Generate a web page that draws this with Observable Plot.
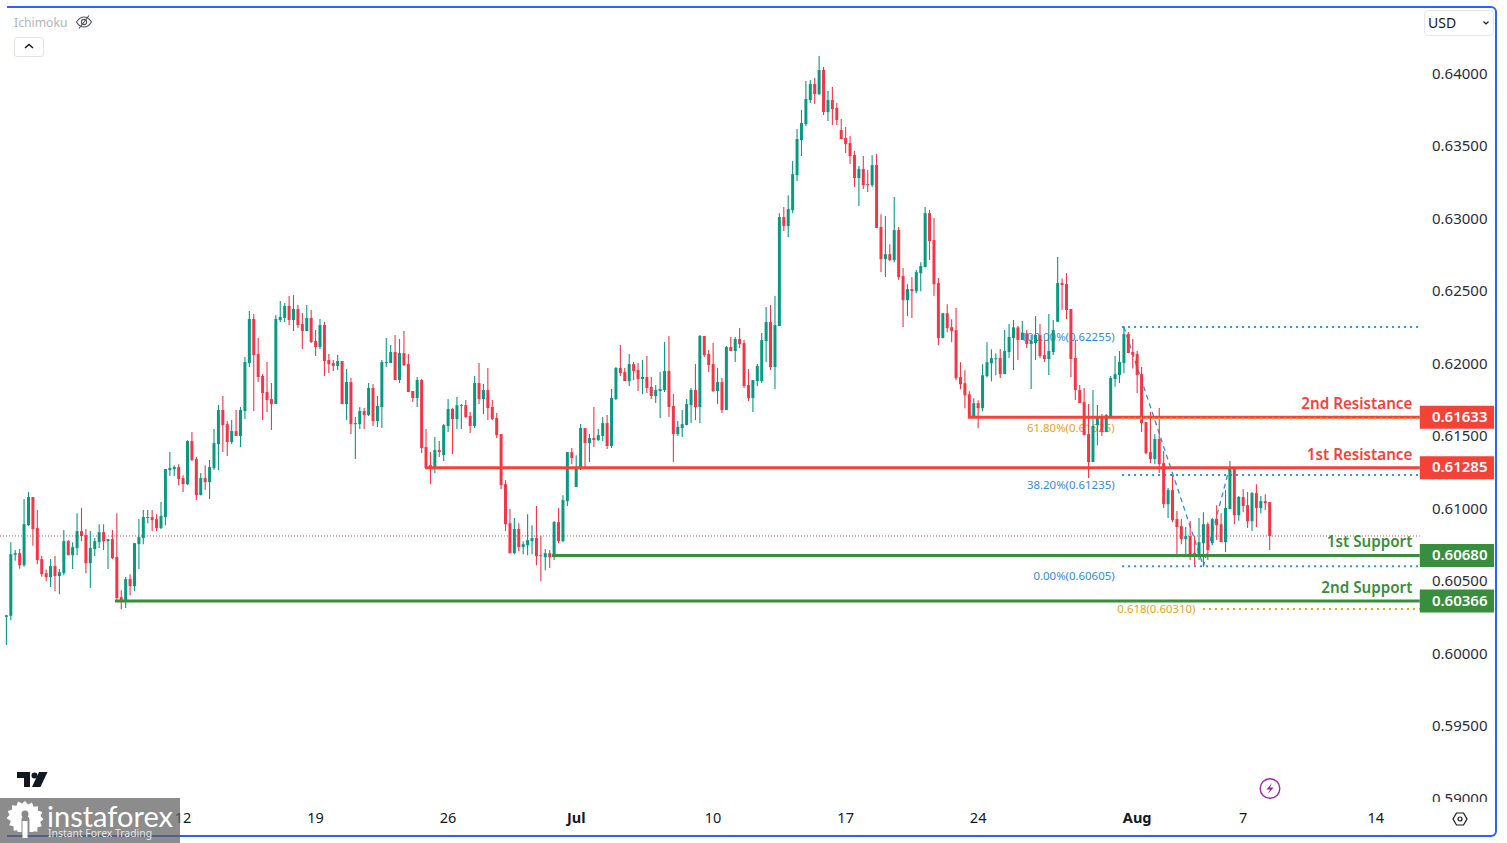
<!DOCTYPE html>
<html>
<head>
<meta charset="utf-8">
<script src="https://cdn.jsdelivr.net/npm/d3@7"></script>
<script src="https://cdn.jsdelivr.net/npm/@observablehq/plot@0.6"></script>
<style>
html,body{margin:0;padding:0;background:#fff;overflow:hidden}
#stage{position:relative;width:1507px;height:843px;overflow:hidden;font-family:"Noto Sans",sans-serif}
#stage svg{display:block}
.ov{position:absolute}
</style>
</head>
<body>
<div id="stage"></div>
<script>
// Prices in points (1 point = 0.00001)
const opens = [
60253,60260,60681,60692,60609,60885,61079,60865,60651,60554,
60527,60603,60534,60554,60775,60678,60727,60844,60816,60623,
60720,60768,60837,60775,60789,60665,60389,60361,60513,60465,
60754,60796,60934,60941,60927,60865,60941,61265,61272,61286,
61210,61168,61465,61341,61092,61210,61182,61279,61444,61679,
61582,61458,61534,61500,61672,62003,62307,62065,61914,61803,
61755,61720,62300,62314,62397,62300,62376,62272,62224,62314,
62155,62114,62265,62024,62003,61983,62017,61720,61872,61582,
61582,61672,61644,61831,61603,61700,62003,62003,62079,61886,
62072,61996,61810,61762,61886,61424,61299,61279,61403,61368,
61569,61686,61617,61707,61713,61638,61569,61865,61755,61817,
61700,61624,61513,61168,60899,60692,60858,60734,60747,60775,
60796,60678,60665,60692,60678,60906,60775,61051,61389,61148,
61272,61555,61451,61486,61472,61500,61589,61431,61755,61969,
61941,61879,61996,61955,61893,61907,61838,61776,61810,61817,
61948,61707,61513,61555,61575,61713,61817,61700,62190,62065,
61996,61810,61872,61679,62114,62086,62169,62141,61851,61762,
61879,61879,62155,62286,61976,62258,63010,62948,63058,63299,
63541,63651,63817,63927,63858,64024,63734,63817,63762,63610,
63555,63520,63437,63279,63341,63237,63230,63368,62941,62720,
62754,62713,62920,62603,62437,62513,62499,62623,62665,63037,
62851,62554,62175,62347,62251,62230,61906,61864,61788,61637,
61726,61692,61913,62002,62030,62038,61927,62079,62176,62249,
62162,62208,62134,62141,62196,62058,62031,62079,62288,62555,
62548,62376,62038,61817,61734,61513,61320,61575,61633,61527,
61633,61893,61920,62003,62203,62079,62065,61927,61596,61389,
61341,61479,61313,61030,61127,60927,60879,60789,60810,60692,
60678,60761,60892,60761,60927,60892,60768,60996,61279,60954,
61079,61023,60913,61106,61003,61051,61044];
const closes = [
60264,60685,60692,60609,60892,61079,60858,60644,60547,60527,
60603,60534,60561,60775,60678,60734,60844,60810,60623,60727,
60775,60837,60775,60789,60658,60382,60361,60513,60465,60761,
60803,60941,60941,60920,60865,60948,61272,61279,61286,61203,
61168,61465,61334,61092,61210,61182,61286,61451,61679,61575,
61458,61534,61500,61679,62010,62307,62058,61907,61796,61748,
61720,62307,62321,62397,62300,62376,62265,62224,62314,62148,
62114,62265,62017,61996,61983,62017,61720,61872,61582,61589,
61672,61644,61831,61603,61707,62010,62010,62079,61886,62072,
61989,61803,61762,61886,61417,61279,61279,61403,61389,61575,
61686,61617,61713,61713,61631,61569,61865,61755,61817,61693,
61617,61506,61161,60892,60692,60858,60734,60754,60782,60796,
60672,60672,60692,60665,60906,60775,61058,61389,61348,61286,
61555,61451,61486,61472,61506,61589,61431,61762,61969,61934,
61879,61996,61948,61893,61907,61831,61776,61817,61824,61948,
61700,61513,61562,61582,61720,61817,61700,62190,62058,61989,
61810,61872,61679,62114,62086,62169,62134,61845,61762,61886,
61983,62162,62286,61976,62265,63010,62948,63065,63306,63548,
63658,63824,63927,63858,64024,63734,63817,63755,63679,63548,
63513,63431,63279,63341,63230,63230,63368,62934,62720,62754,
62713,62920,62596,62437,62513,62499,62630,62672,63037,62844,
62547,62175,62347,62244,62223,61899,61857,61781,61632,61726,
61692,61919,62009,62037,62037,61927,62086,62183,62249,62162,
62213,62134,62157,62196,62052,62031,62086,62231,62555,62541,
62369,62031,61817,61727,61506,61320,61569,61638,61527,61644,
61900,61927,62010,62203,62072,62058,61920,61589,61382,61341,
61479,61306,61030,61127,60920,60872,60789,60810,60678,60672,
60768,60892,60713,60927,60885,60768,61003,61286,60954,61079,
61017,60913,61106,61003,61051,61037,60810];
const highs = [
60264,60768,60713,60720,61065,61113,61079,60989,60672,60580,
60651,60672,60582,60851,60782,60768,60968,61003,60858,60844,
60796,60892,60892,60789,60851,60968,60437,60527,60547,60761,
60927,60989,60989,60989,60961,61044,61272,61389,61299,61306,
61230,61472,61527,61355,61244,61299,61334,61548,61713,61776,
61603,61610,61679,61700,62045,62362,62341,62176,61927,62010,
61865,62334,62431,62417,62466,62472,62403,62348,62403,62369,
62231,62307,62286,62065,62024,62058,62017,61962,61900,61631,
61700,61693,61865,61858,61776,62024,62176,62127,62196,62169,
62224,62065,61810,61907,61893,61548,61389,61493,61465,61582,
61755,61693,61769,61720,61748,61665,61914,62003,61858,61969,
61748,61658,61513,61196,60996,60934,60899,60775,60961,60885,
61017,60810,60720,60713,60913,61003,61092,61389,61417,61368,
61582,61555,61513,61700,61548,61631,61644,61824,61976,62127,
61969,62065,62010,62003,62024,62052,61907,61851,61941,62148,
62190,61789,61603,61679,61755,61831,61996,62196,62190,62093,
62141,61969,61900,62121,62183,62183,62245,62162,61962,61886,
61996,62210,62390,62403,62466,63037,63079,63161,63396,63617,
63748,63948,63955,63969,64121,64045,63879,63907,63796,63686,
63631,63569,63465,63362,63431,63334,63437,63444,63030,63017,
62823,63148,62941,62658,62547,62596,62644,62699,63079,63058,
63003,62589,62347,62409,62306,62382,62009,61954,61809,61761,
61747,61995,62147,62099,62071,62100,62231,62272,62300,62259,
62293,62231,62196,62328,62272,62162,62341,62300,62735,62587,
62624,62376,62162,61851,61831,61720,61817,61713,61651,61651,
61914,62052,62086,62254,62217,62169,62086,61976,61596,61665,
61513,61693,61396,61141,61230,60982,60927,60872,60913,60810,
60934,60975,60906,60934,61023,60968,61127,61327,61286,61086,
61134,61113,61113,61168,61086,61099,61044];
const lows = [
60058,60230,60639,60584,60598,60879,60743,60616,60529,60499,
60458,60430,60409,60540,60678,60582,60678,60775,60554,60451,
60672,60727,60713,60582,60651,60368,60306,60313,60402,60430,
60582,60754,60899,60844,60844,60858,60885,61224,61224,61161,
61113,61161,61327,61058,61092,61127,61065,61265,61265,61389,
61362,61444,61500,61424,61617,61976,61672,61872,61610,61665,
61541,61720,62286,62286,62265,62224,62245,62100,62224,62141,
62052,62100,61914,61934,61948,61955,61720,61610,61513,61341,
61548,61548,61638,61569,61562,61555,61976,62003,61886,61865,
61983,61803,61734,61700,61382,61272,61168,61244,61355,61327,
61527,61375,61548,61548,61624,61520,61555,61720,61651,61610,
61610,61486,61134,60844,60692,60685,60706,60685,60678,60685,
60609,60499,60575,60589,60644,60761,60768,61017,61306,61148,
61265,61272,61320,61424,61465,61465,61410,61417,61748,61914,
61879,61845,61886,61810,61789,61796,61755,61727,61624,61803,
61631,61320,61500,61493,61575,61589,61610,61589,62045,61941,
61803,61720,61658,61679,62086,62010,62107,61831,61741,61665,
61845,61865,62010,61955,61824,62258,62913,62872,63037,63258,
63431,63638,63796,63789,63851,63713,63672,63644,63644,63548,
63451,63375,63217,63086,63203,63182,63217,62934,62630,62596,
62706,62699,62575,62251,62327,62313,62485,62499,62665,62713,
62465,62126,62175,62216,62147,61885,61823,61692,61623,61623,
61554,61671,61906,61878,61919,61900,61927,62038,61955,62024,
62162,62107,61824,62024,62038,62010,61920,62058,62288,62369,
62307,61907,61748,61727,61506,61210,61320,61437,61500,61527,
61633,61840,61865,61932,62072,61966,61796,61527,61375,61313,
61306,61244,61003,60934,60906,60678,60754,60678,60644,60609,
60644,60609,60644,60747,60782,60768,60699,60996,60892,60915,
60975,60865,60844,60872,60968,60989,60713];

const POINT = 1e-5;
const price = p => p * POINT;

// Axes
const priceTicks = [0.59,0.595,0.60,0.605,0.61,0.615,0.62,0.625,0.63,0.635,0.64];
const dayTicks = [40,70,100,160,190,220,280,310];
const dayLabels = ["12","19","26","10","17","24","7","14"];
const monthTicks = [129,256];
const monthLabels = ["Jul","Aug"];

// Support / resistance levels
const levelNames  = ["2nd Resistance","1st Resistance","1st Support","2nd Support"];
const levelPrices = [0.61633,0.61285,0.60680,0.60366];
const levelStarts = [217.8,94.9,123.6,24.7];
const levelColors = ["#f44336","#f44336","#388e3c","#388e3c"];
const levels = levelNames.map((name,i)=>({name,price:levelPrices[i],start:levelStarts[i],color:levelColors[i]}));

// Fibonacci drawing
const fibPrices = [0.62255,0.61625,0.61235,0.60605];
const fibTexts  = ["100.00%(0.62255)","61.80%(0.61625)","38.20%(0.61235)","0.00%(0.60605)"];
const fibColors = ["#2f8be0","#e8a317","#2f8be0","#2f8be0"];
const fibs = fibPrices.map((p,i)=>({price:p,text:fibTexts[i],color:fibColors[i]}));
const extPrice = 0.60310, extText = "0.618(0.60310)";
const pathIdx = [253,271,277];
const pathPrices = [0.62255,0.60605,0.61295];
const lastPrice = 0.60814;

// Horizontal anchors, in candle index
const xMin = -1.336, fibStart = 252.7, extStart = 271, lineEnd = 320.1, nameEnd = 318.3, xMax = 336.9;

const idx = d3.range(opens.length);
const up = idx.filter(i => closes[i] >= opens[i]);
const down = idx.filter(i => closes[i] < opens[i]);
const GREEN = "#089981", RED = "#f23645";
const candle = (set, color) => [
  Plot.ruleX(set,{x:i=>i,y1:i=>price(lows[i]),y2:i=>price(highs[i]),stroke:color,strokeWidth:1.1}),
  Plot.ruleX(set,{x:i=>i,y1:i=>price(opens[i]),y2:i=>price(closes[i]),stroke:color,strokeWidth:3})
];
const AXIS_FONT = 15;
const DOTS = "2 4";

const chart = Plot.plot({
  width:1507, height:843,
  marginLeft:0, marginRight:13, marginTop:8, marginBottom:41,
  style:{background:"#fff",fontFamily:'"Noto Sans",sans-serif',overflow:"hidden"},
  x:{type:"linear",domain:[xMin,xMax]},
  y:{type:"linear",domain:[0.589759,0.644517]},
  marks:[
    // last price line
    Plot.ruleY([lastPrice],{x1:xMin,x2:lineEnd,stroke:"#c8505a",strokeWidth:1,strokeDasharray:"1 2"}),
    // fib labels and levels, under the candles
    Plot.text(fibs,{x:fibStart,y:"price",text:"text",fill:"color",textAnchor:"end",dx:-8,dy:10,fontSize:11.4}),
    Plot.text([extText],{x:extStart,y:extPrice,text:d=>d,fill:"#e8a317",textAnchor:"end",dx:-8,fontSize:11.4}),
    Plot.lineY(pathIdx,{x:i=>i,y:(i,k)=>pathPrices[k],stroke:"#2f8be0",strokeWidth:1.3,strokeDasharray:"4 5"}),
    Plot.ruleY(fibs.filter(f=>f.color==="#2f8be0"),{x1:fibStart,x2:lineEnd,y:"price",stroke:"#2196f3",strokeWidth:2,strokeDasharray:DOTS}),
    // candles
    ...candle(down,RED),
    ...candle(up,GREEN),
    // levels
    Plot.ruleY(levels,{x1:"start",x2:lineEnd,y:"price",stroke:"color",strokeWidth:3}),
    Plot.ruleY(fibs.filter(f=>f.color==="#e8a317"),{x1:fibStart,x2:lineEnd,y:"price",stroke:"#e8a317",strokeWidth:2,strokeDasharray:DOTS}),
    Plot.ruleY([extPrice],{x1:extStart,x2:lineEnd,stroke:"#e8a317",strokeWidth:2,strokeDasharray:DOTS}),
    Plot.text(levels,{x:nameEnd,y:"price",text:"name",fill:"color",textAnchor:"end",dy:-13,fontSize:15.2,fontWeight:600}),
    // axes
    Plot.axisY({anchor:"right",label:null,ticks:priceTicks,tickFormat:d3.format(".5f"),tickSize:0,tickPadding:-7,textAnchor:"end",fontSize:AXIS_FONT,fill:"#2a2e39",clip:true}),
    Plot.axisX({anchor:"bottom",label:null,ticks:dayTicks,tickFormat:d=>dayLabels[dayTicks.indexOf(d)],tickSize:0,tickPadding:10,fontSize:14.5,fill:"#131722"}),
    Plot.axisX({anchor:"bottom",label:null,ticks:monthTicks,tickFormat:d=>monthLabels[monthTicks.indexOf(d)],tickSize:0,tickPadding:10,fontSize:14.5,fontWeight:700,fill:"#131722"}),
    // price tags
    Plot.ruleY(levels,{x1:lineEnd,x2:xMax,y:"price",stroke:"color",strokeWidth:23}),
    Plot.text(levels,{x:xMax,y:"price",text:d=>d3.format(".5f")(d.price),fill:"#fff",textAnchor:"end",dx:-7,fontSize:15,fontWeight:600})
  ]
});
document.getElementById("stage").appendChild(chart);

// Chrome around the chart: legend, currency box, logo, watermark, frame
const chrome = `
<div class="ov" style="left:7px;top:6px;width:1488px;height:827px;border:2px solid #2962ff;border-left:none;border-radius:0 6px 6px 0;pointer-events:none"></div>
<div class="ov" style="left:14px;top:14px;font:12.2px 'Noto Sans';color:#b2b5be">Ichimoku</div>
<svg class="ov" style="left:75px;top:14px" width="18" height="16" viewBox="0 0 18 16" fill="none" stroke="#50535e" stroke-width="1.1"><path d="M1.5 8C4 4 6.5 3 9 3s5 1 7.5 5C14 12 11.500 13 9 13S4 12 1.500 8Z"/><circle cx="9" cy="8" r="2.600"/><path d="M14 1.500 4 14.500"/></svg>
<div class="ov" style="left:14px;top:37px;width:28px;height:18px;border:1px solid #e0e3eb;border-radius:3px"></div>
<svg class="ov" style="left:23px;top:42px" width="12" height="8" viewBox="0 0 12 8" fill="none" stroke="#131722" stroke-width="1.500"><path d="M2 6 6 2.500 10 6"/></svg>
<div class="ov" style="left:1424px;top:10px;width:68px;height:24px;border:1px solid #e6e8ef;border-radius:4px"></div>
<div class="ov" style="left:1428px;top:13px;font:14px 'Noto Sans';color:#131722">USD</div>
<svg class="ov" style="left:1482px;top:20px" width="8" height="6" viewBox="0 0 8 6" fill="none" stroke="#131722" stroke-width="1.200"><path d="M1.500 1.500 4 4 6.500 1.500"/></svg>
<svg class="ov" style="left:17px;top:772px" width="31" height="16" viewBox="0 0 31 16" fill="#131722"><path d="M0 0h13v15H7V6H0z"/><circle cx="17.500" cy="3.500" r="3"/><path d="M22 0h8.500l-7 15H15z"/></svg>
<svg class="ov" style="left:1258px;top:777px" width="24" height="23" viewBox="0 0 24 23" fill="none" stroke="#9c27b0" stroke-width="1.400"><circle cx="12" cy="11.500" r="9.800"/><path d="M14 6 8.500 12.500H12L10 17l5.500-6.500H12z" fill="#9c27b0" stroke="none"/></svg>
<svg class="ov" style="left:1452px;top:811px" width="16" height="16" viewBox="0 0 16 16" fill="none" stroke="#131722" stroke-width="1.200"><path d="M4.500 2h7L15 8l-3.500 6h-7L1 8z"/><circle cx="8" cy="8" r="2"/></svg>
<div class="ov" style="left:0;top:798px;width:180px;height:45px;background:rgba(95,95,95,.72)"></div>
<svg class="ov" style="left:6px;top:800px" width="38" height="38" viewBox="0 0 38 38" fill="#fff"><path d="M19 1l3 3.500 4-2 1.500 4.200 4.500-.5 0 4.500 4.300 1.200-1.800 4.100 3 3.200-3.300 2.800 1.600 4.200-4.300 1.100-.2 4.500-3.800-.6V32h-4V20a4 4 0 1 0-8 0v12h-4v-1.800l-3.800.6-.2-4.500-4.300-1.100 1.600-4.200L.5 18.200l3-3.200-1.800-4.100L6 9.700l0-4.500 4.500.5L12 1.500l4 2z"/><rect x="16.500" y="21" width="5" height="17" fill="#fff"/><circle cx="19" cy="14" r="3.500" fill="#8a8a8a"/></svg>
<div class="ov" style="left:47px;top:800px;font:29px/32px Lato,'Noto Sans';color:#fff">instaforex</div>
<div class="ov" style="left:48px;top:827px;font:10.4px/13px 'Noto Sans';color:#e8e8e8">Instant Forex Trading</div>`;
document.getElementById("stage").insertAdjacentHTML("beforeend", chrome);
</script>
</body>
</html>
